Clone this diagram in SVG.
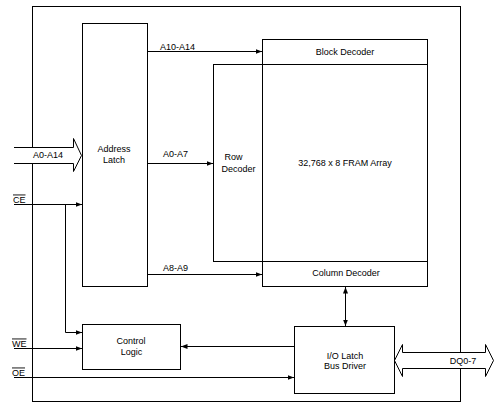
<svg xmlns="http://www.w3.org/2000/svg" width="497" height="410" viewBox="0 0 497 410">
<style>
.b{fill:#fff;stroke:#000;stroke-width:1}
.l{fill:none;stroke:#000;stroke-width:1}
text{font-family:"Liberation Sans",Arial,sans-serif;font-size:9px;fill:#000}
.c{text-anchor:middle}
.o{text-decoration:overline}
</style>
<defs>
<marker id="ah" markerUnits="userSpaceOnUse" markerWidth="7" markerHeight="6" refX="6.5" refY="3" orient="auto-start-reverse" viewBox="0 0 7 6">
<path d="M0,0.5 L6.5,3 L0,5.5 z" fill="#000"/>
</marker>
</defs>
<rect width="497" height="410" fill="#fff"/>
<g id="frame"><rect class="l" x="32.5" y="6.5" width="428" height="395"/></g>
<g id="bus-a0-a14">
<polygon points="14,147.5 73.5,147.5 73.5,138.5 81.5,155.5 73.5,171.5 73.5,163.5 14,163.5" fill="#fff"/>
<polyline class="l" points="14,147.5 73.5,147.5 73.5,138.5 81.5,155.5 73.5,171.5 73.5,163.5 14,163.5"/>
<text x="33" y="158">A0-A14</text>
</g>
<g id="bus-dq">
<polygon class="b" points="394.5,360.5 402.5,344.5 402.5,352.5 485.5,352.5 485.5,344.5 493.5,360.5 485.5,376.5 485.5,368.5 402.5,368.5 402.5,376.5"/>
<text x="463" y="364" class="c">DQ0-7</text>
</g>
<g id="address-latch">
<rect class="b" x="82.5" y="23.5" width="65" height="263"/>
<text x="114" y="151.5" class="c">Address</text>
<text x="114" y="162.5" class="c">Latch</text>
</g>
<g id="row-decoder">
<rect class="b" x="213.5" y="64.5" width="49" height="197"/>
<text x="233.5" y="159.5" class="c">Row</text>
<text x="238.5" y="171.5" class="c">Decoder</text>
</g>
<g id="block-decoder">
<rect class="b" x="262.5" y="39.5" width="165" height="25"/>
<text x="345" y="54.5" class="c">Block Decoder</text>
</g>
<g id="fram-array">
<rect class="b" x="262.5" y="64.5" width="165" height="197"/>
<text x="345" y="165.5" class="c">32,768 x 8 FRAM Array</text>
</g>
<g id="column-decoder">
<rect class="b" x="262.5" y="261.5" width="165" height="25"/>
<text x="346" y="276" class="c">Column Decoder</text>
</g>
<g id="control-logic">
<rect class="b" x="82.5" y="324.5" width="98" height="45"/>
<text x="131" y="344" class="c">Control</text>
<text x="131.5" y="354.5" class="c">Logic</text>
</g>
<g id="io-latch">
<rect class="b" x="294.5" y="326.5" width="100" height="67"/>
<text x="345" y="358.5" class="c">I/O Latch</text>
<text x="345" y="368.5" class="c">Bus Driver</text>
</g>
<g id="connectors">
<path class="l" d="M147.5,51.5 H262" marker-end="url(#ah)"/>
<path class="l" d="M147.5,163.5 H213" marker-end="url(#ah)"/>
<path class="l" d="M147.5,274.5 H262" marker-end="url(#ah)"/>
<path class="l" d="M14,204.5 H82" marker-end="url(#ah)"/>
<path class="l" d="M65.5,204.5 V332.5 H82" marker-end="url(#ah)"/>
<path class="l" d="M14,348.5 H82" marker-end="url(#ah)"/>
<path class="l" d="M14,377.5 H294" marker-end="url(#ah)"/>
<path class="l" d="M294,346.5 H181" marker-end="url(#ah)"/>
<path class="l" d="M345.5,287 V326" marker-start="url(#ah)" marker-end="url(#ah)"/>
</g>
<g id="labels">
<text x="160" y="49.5">A10-A14</text>
<text x="163" y="156.5">A0-A7</text>
<text x="163" y="270.5">A8-A9</text>
<text x="13" y="202.5" class="o">CE</text>
<text x="12" y="346.5" class="o">WE</text>
<text x="12" y="375.5" class="o">OE</text>
</g>
</svg>
